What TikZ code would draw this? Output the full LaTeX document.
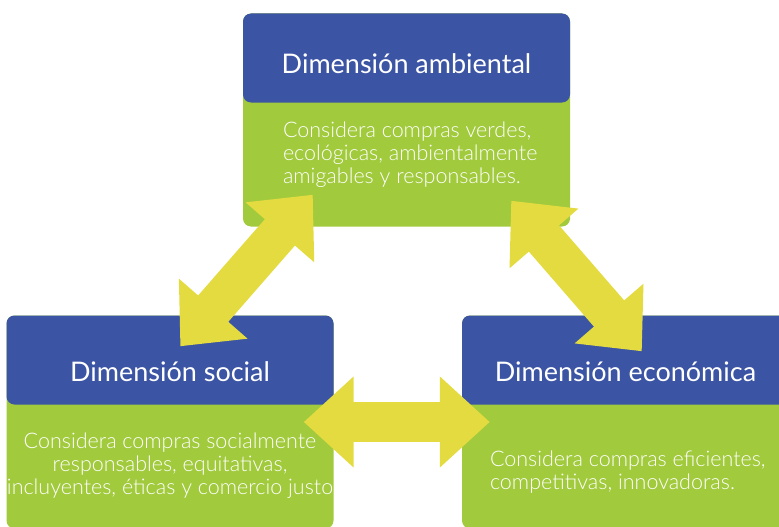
\documentclass[tikz,border=0pt]{standalone}
\usepackage{fontspec}
\setmainfont{Lato}
\newfontfamily\lightfont{Lato Light}
\usetikzlibrary{arrows.meta,positioning}
\definecolor{dimblue}{RGB}{59,84,163}
\definecolor{dimgreen}{RGB}{161,202,61}
\definecolor{dimyellow}{RGB}{227,219,64}
\tikzset{%
   box/.style={rectangle, rounded corners=8pt, fill=dimgreen, inner sep=0pt, minimum width=327pt, minimum height=213pt},
   head/.style={rectangle, rounded corners=8pt, fill=dimblue, inner sep=0pt, minimum width=327pt, minimum height=89pt},
   title/.style={text=white, font=\fontsize{27}{27}\selectfont, inner sep=0pt, anchor=base},
   desc/.style={text=white, font=\lightfont\fontsize{21.5}{23}\selectfont, inner sep=0pt},
   conn/.style={draw=dimyellow, line width=40pt,
     arrows={Triangle[length=50pt,width=88pt]-Triangle[length=50pt,width=88pt]}},
}

\begin{document}
\begin{tikzpicture}[x=1pt, y=-1pt]
   \useasboundingbox (0,0) rectangle (779,527);
   \clip (0,0) rectangle (779,527);
   % ambiental
   \node[box] (amb) at (406.5,120) {};
   \node[head, anchor=north] (ambh) at (amb.north) {};
   \node[title] (ambt) at ([yshift=-16pt]ambh.center) {Dimensión ambiental};
   \node[desc, align=left, anchor=north west] (ambd) at ([shift={(40,19)}]ambh.south west)
      {Considera compras verdes,\\ecológicas, ambientalmente\\amigables y responsables.};
   % social
   \node[box] (soc) at (170,422) {};
   \node[head, anchor=north] (soch) at (soc.north) {};
   \node[title] (soct) at ([yshift=-21pt]soch.center) {Dimensión social};
   \node[desc, align=center, anchor=north] (socd) at ([yshift=-28pt]soch.south)
      {Considera compras socialmente\\responsables, equitativas,\\incluyentes, éticas y comercio justo};
   % economica
   \node[box] (eco) at (625.5,422) {};
   \node[head, anchor=north] (ecoh) at (eco.north) {};
   \node[title] (ecot) at ([yshift=-21pt]ecoh.center) {Dimensión económica};
   \node[desc, align=left, anchor=north west] (ecod) at ([shift={(28,46)}]ecoh.south west)
      {Considera compras eficientes,\\competitivas, innovadoras.};
   % flechas
   \coordinate (ambl) at ([shift={(70,-32)}]amb.south west);
   \coordinate (socu) at ([shift={(174,31)}]soc.north west);
   \coordinate (ambr) at ([shift={(-59,-26)}]amb.south east);
   \coordinate (ecou) at ([shift={(180,36)}]eco.north west);
   \draw[conn] (socu) -- (ambl);
   \draw[conn] (ambr) -- (ecou);
   \draw[conn, shorten <=-30pt, shorten >=-28pt] (soc.east) -- (eco.west);
\end{tikzpicture}
\end{document}
